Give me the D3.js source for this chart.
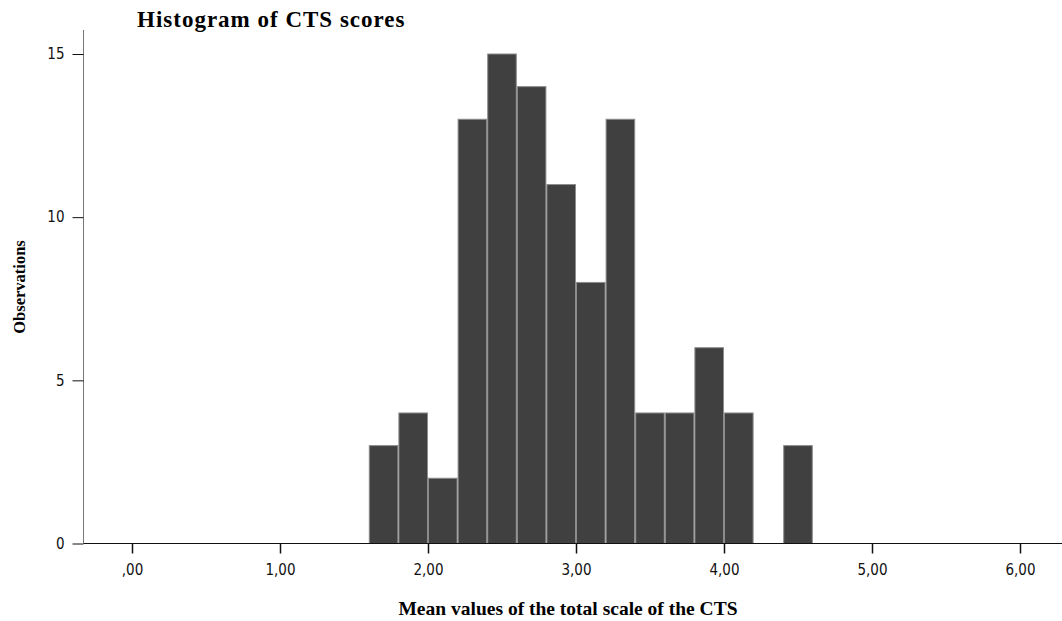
<!DOCTYPE html>
<html><head><meta charset="utf-8">
<script src="https://cdn.jsdelivr.net/npm/d3@7"></script>
<style>body{margin:0;background:#fff}</style>
</head><body>
<svg id="c" width="1062" height="621"></svg>
<script>
const binStarts = [1.6,1.8,2.0,2.2,2.4,2.6,2.8,3.0,3.2,3.4,3.6,3.8,4.0,4.2,4.4];
const counts    = [3,4,2,13,15,14,11,8,13,4,4,6,4,0,3];
const binWidth = 0.2;
const xTicks = [0,1,2,3,4,5,6];
const xTickLabels = [",00","1,00","2,00","3,00","4,00","5,00","6,00"];
const yTicks = [0,5,10,15];

const tickFont = "'Liberation Sans Narrow', 'DejaVu Sans Condensed', sans-serif";
const svg = d3.select("#c");
const x = d3.scaleLinear().domain([0,6]).range([132,1020]);
const y = d3.scaleLinear().domain([0,15]).range([543.5,54]);
const x0 = 83.5, x1 = 1062;

// bars
svg.append("g").selectAll("rect").data(binStarts.map((s,i)=>({s,c:counts[i]})).filter(d=>d.c>0))
  .join("rect")
  .attr("x", d=>x(d.s)+0.5).attr("width", d=>x(d.s+binWidth)-x(d.s)-1)
  .attr("y", d=>y(d.c)).attr("height", d=>y(0)-y(d.c))
  .attr("fill","#404040").attr("stroke","#8c8c8c").attr("stroke-width",1);

// y axis
const ya = svg.append("g").attr("transform",`translate(${x0},0)`)
  .call(d3.axisLeft(y).tickValues(yTicks).tickSize(11).tickPadding(8).tickFormat(d3.format("d")));
ya.select(".domain").attr("d",`M0,${y(0)}V30`).attr("stroke","#777");
ya.selectAll(".tick line").attr("stroke","#111");
ya.selectAll("text").attr("font-family",tickFont).attr("font-size",15).attr("fill","#111");

// x axis
const xa = svg.append("g").attr("transform",`translate(0,${y(0)})`)
  .call(d3.axisBottom(x).tickValues(xTicks).tickSize(10).tickPadding(11).tickFormat((d,i)=>xTickLabels[i]));
xa.select(".domain").attr("d",`M${x0},0H${x1}`).attr("stroke","#111");
xa.selectAll(".tick line").attr("stroke","#111").attr("stroke-width",1.5);
xa.selectAll("text").attr("font-family",tickFont).attr("font-size",15).attr("fill","#111");

// titles
svg.append("text").attr("x",137).attr("y",27).text("Histogram of CTS scores")
  .attr("font-family","'Liberation Serif', serif").attr("font-weight","bold").attr("font-size",23)
  .attr("letter-spacing",1).attr("fill","#000");
svg.append("text").attr("x",568).attr("y",615).attr("text-anchor","middle").text("Mean values of the total scale of the CTS")
  .attr("font-family","'Liberation Serif', serif").attr("font-weight","bold").attr("font-size",19.5).attr("fill","#000");
svg.append("text").attr("transform","translate(25,287) rotate(-90)").attr("text-anchor","middle").text("Observations")
  .attr("font-family","'Liberation Serif', serif").attr("font-weight","bold").attr("font-size",16.5).attr("fill","#000");
</script>
</body></html>
